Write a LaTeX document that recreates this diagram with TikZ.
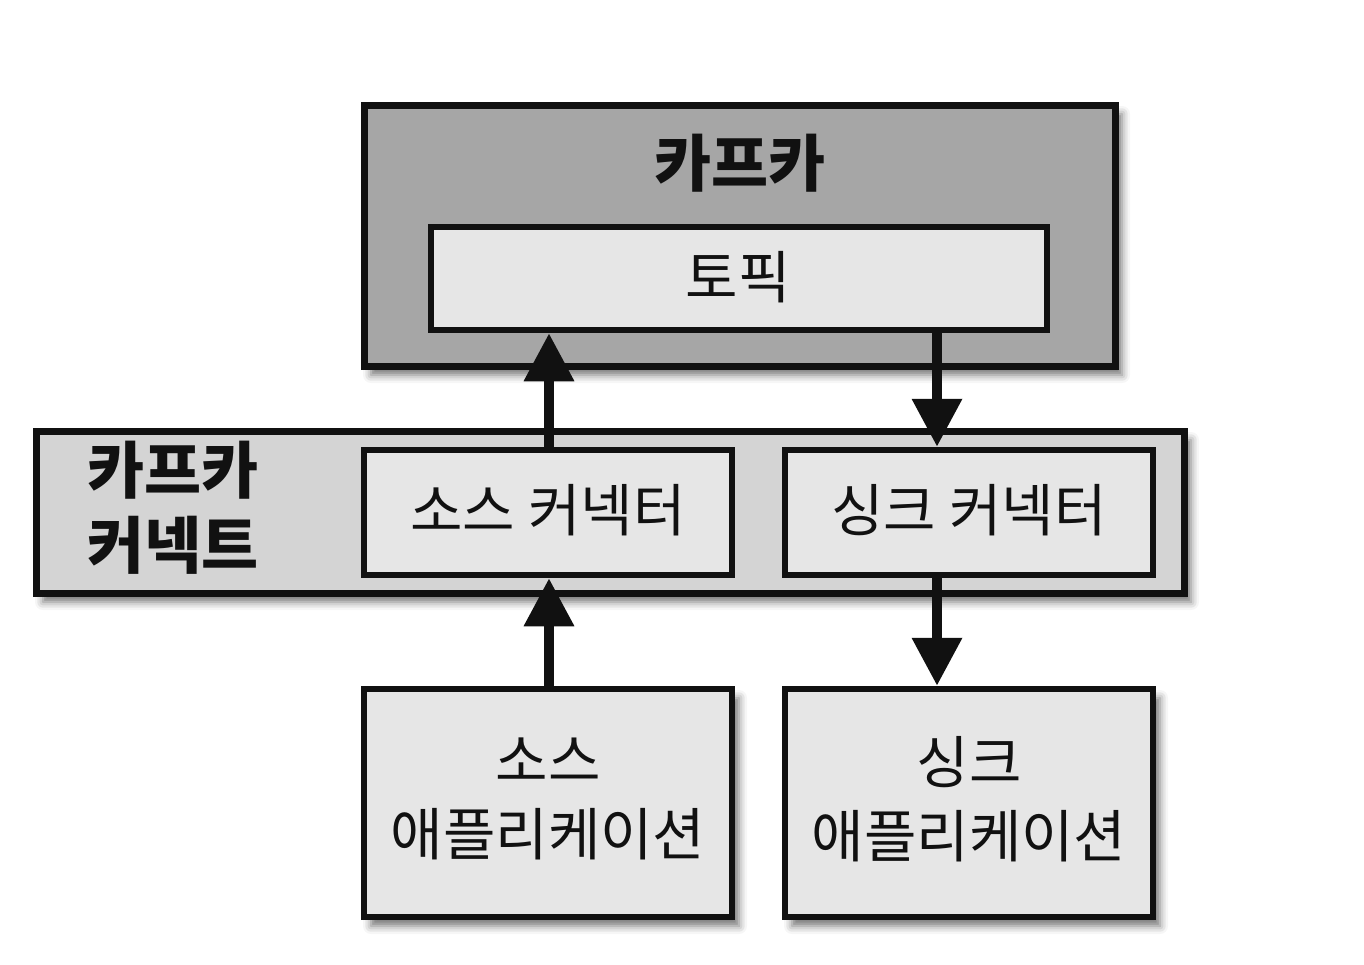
\documentclass[tikz,border=0pt]{standalone}
\usepackage{fontspec}
\setmainfont{Noto Sans CJK KR}
\usetikzlibrary{arrows.meta,shadows.blur}
\definecolor{kafkagray}{HTML}{A6A6A6}
\definecolor{conngray}{HTML}{D4D4D4}
\definecolor{lightbox}{HTML}{E6E6E6}
\definecolor{ink}{HTML}{111111}
\tikzset{
  shad/.style={blur shadow={shadow xshift=7pt,shadow yshift=-9pt,shadow blur radius=8pt,shadow opacity=55}},
  outerbox/.style={draw=ink,line width=7pt,inner sep=0pt},
  innerbox/.style={draw=ink,line width=6.5pt,fill=lightbox,inner sep=0pt},
  reg/.style={font=\fontsize{57}{74}\selectfont,text=ink},
  bld/.style={font=\bfseries\fontsize{62}{75}\selectfont,text=ink},
  arr/.style={draw=ink,line width=10pt,-{Triangle[width=48pt,length=48pt]}}
}
\begin{document}
\begin{tikzpicture}[x=1pt,y=-1pt]
\useasboundingbox (0,0) rectangle (1364,964);
% Kafka
\node[outerbox,shad,fill=kafkagray,minimum width=751pt,minimum height=261pt] (kafka) at (739.5,235.5) {};
\node[bld] (kafkalabel) at (740,163) {카프카};
\node[innerbox,minimum width=616pt,minimum height=103pt] (topic) at (739,278.5) {};
\node[reg] (topiclabel) at (738,277) {토픽};
% Kafka Connect
\node[outerbox,shad,fill=conngray,minimum width=1148pt,minimum height=162pt] (connect) at (610,512) {};
\node[bld,align=left,anchor=west] (connectlabel) at (84,508) {카프카\\커넥트};
\node[innerbox,minimum width=368pt,minimum height=125pt] (srcconn) at (548,512.5) {};
\node[reg] (srcconnlabel) at (548,510) {소스 커넥터};
\node[innerbox,minimum width=368pt,minimum height=125pt] (sinkconn) at (969,512.5) {};
\node[reg] (sinkconnlabel) at (969,510) {싱크 커넥터};
% Applications
\node[innerbox,shad,minimum width=368pt,minimum height=228pt] (srcapp) at (548,803) {};
\node[reg,align=center] (srcapplabel) at (548,799) {소스\\애플리케이션};
\node[innerbox,shad,minimum width=368pt,minimum height=228pt] (sinkapp) at (969,803) {};
\node[reg,align=center] (sinkapplabel) at (969,799) {싱크\\애플리케이션};
% arrows
\coordinate (upx) at (549,0);
\coordinate (downx) at (937,0);
\draw[arr] (srcconn.north -| upx) -- (topic.south -| upx);
\draw[arr] (topic.south -| downx) -- (sinkconn.north -| downx);
\draw[arr] (srcapp.north -| upx) -- (srcconn.south -| upx);
\draw[arr] (sinkconn.south -| downx) -- (sinkapp.north -| downx);
\end{tikzpicture}
\end{document}
